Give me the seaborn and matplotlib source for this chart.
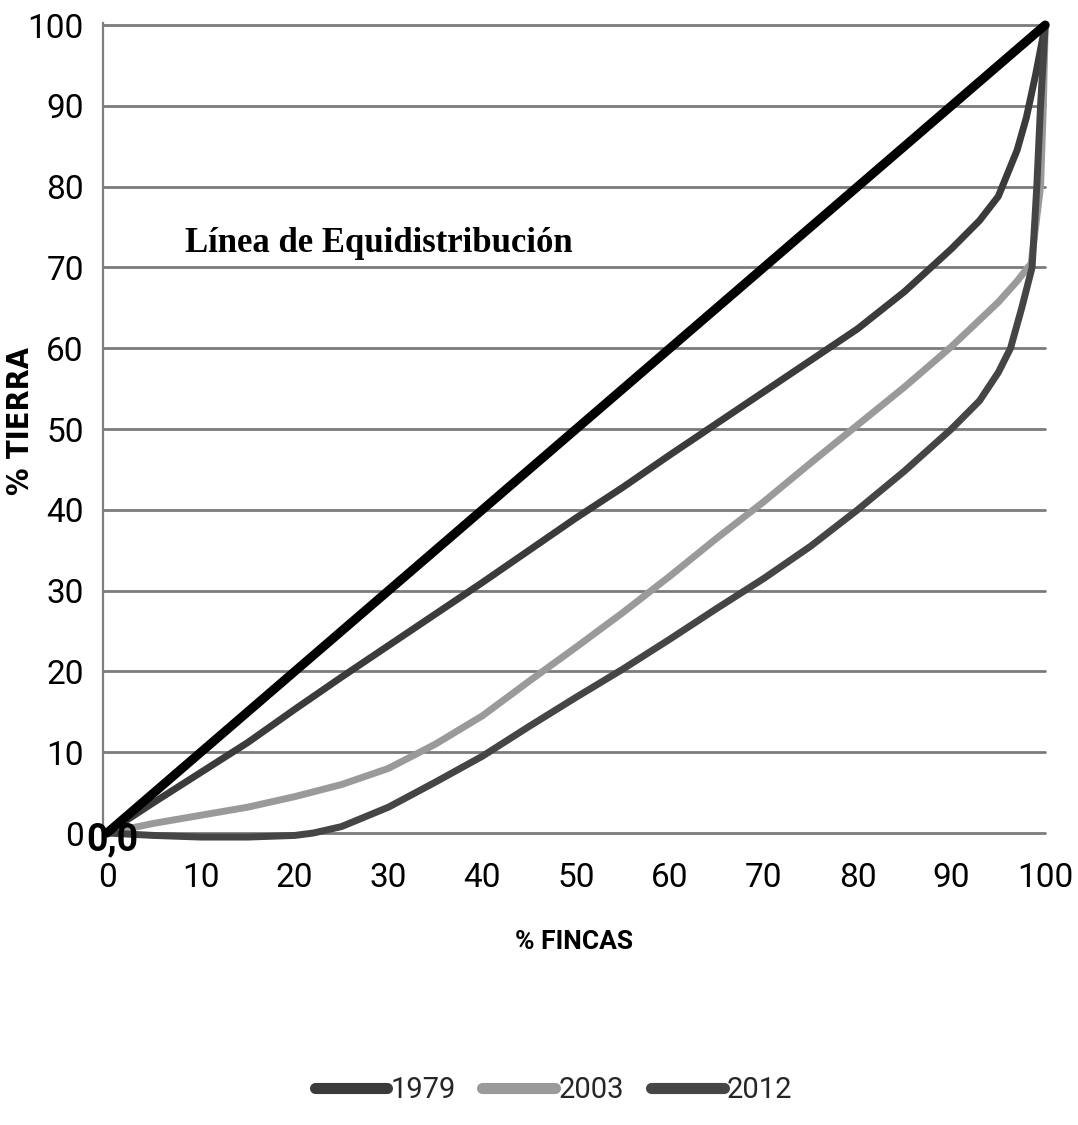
import numpy as np
import pandas as pd
import matplotlib
matplotlib.use("Agg")
import matplotlib.pyplot as plt
import seaborn as sns

# ---- data ----
ticks = [0, 10, 20, 30, 40, 50, 60, 70, 80, 90, 100]
years = ["1979", "2003", "2012"]

fincas_1979 = [0, 5, 10, 15, 20, 25, 30, 35, 40, 45, 50, 55, 60, 65, 70, 75, 80, 85, 90, 93, 95, 97, 98, 99, 100]
tierra_1979 = [0, 3.8, 7.5, 11.2, 15.3, 19.3, 23.2, 27.1, 31, 35, 39, 42.8, 46.8, 50.7, 54.6, 58.5, 62.4, 67, 72.3, 75.8, 78.8, 84.5, 88.6, 94, 100]

fincas_2003 = [0, 5, 10, 15, 20, 25, 30, 35, 40, 45, 50, 55, 60, 65, 70, 75, 80, 85, 90, 95, 97, 98.5, 99.5, 99.8, 100]
tierra_2003 = [0, 1.2, 2.2, 3.2, 4.5, 6, 8, 11, 14.5, 18.8, 23, 27.3, 31.8, 36.5, 41, 45.8, 50.5, 55.2, 60.2, 65.7, 68.3, 70.5, 80, 90, 100]

fincas_2012 = [0, 5, 10, 15, 20, 22, 25, 30, 35, 40, 45, 50, 55, 60, 65, 70, 75, 80, 85, 90, 93, 95, 96.3, 97.5, 98.6, 99.1, 99.5, 100]
tierra_2012 = [0, -0.3, -0.5, -0.5, -0.3, 0, 0.8, 3.2, 6.3, 9.5, 13.2, 16.8, 20.3, 24, 27.8, 31.5, 35.5, 40, 44.8, 50, 53.5, 57, 60, 65, 70, 80, 90, 100]

equi_x = [0, 100]
equi_y = [0, 100]

colors = {"1979": "#3b3b3b", "2003": "#9a9a9a", "2012": "#454545"}

df = pd.concat([
    pd.DataFrame({"fincas": fincas_1979, "tierra": tierra_1979, "year": "1979"}),
    pd.DataFrame({"fincas": fincas_2003, "tierra": tierra_2003, "year": "2003"}),
    pd.DataFrame({"fincas": fincas_2012, "tierra": tierra_2012, "year": "2012"}),
], ignore_index=True)

# ---- style ----
sns.set_theme(style="white")
plt.rcParams["font.family"] = ["Roboto", "DejaVu Sans"]
plt.rcParams["font.stretch"] = "condensed"

fig = plt.figure(figsize=(10.78, 11.25), dpi=100)
ax = fig.add_axes([0.0958, 0.2581, 0.8738, 0.7211])

ax.set_xlim(-0.4, 100)
ax.set_ylim(-0.2, 100.2)

# horizontal gridlines
for t in ticks:
    ax.axhline(t, color="#7b7b7b", lw=2.0, zorder=1, clip_on=False)

# Lorenz curves
sns.lineplot(data=df, x="fincas", y="tierra", hue="year", hue_order=years,
             palette=colors, linewidth=5, estimator=None, sort=False, ax=ax,
             zorder=3)

# equidistribution line
sns.lineplot(x=equi_x, y=equi_y, color="black", linewidth=6.5, ax=ax, zorder=4)

for ln in ax.lines:
    ln.set_clip_on(False)
    ln.set_solid_capstyle("round")
    ln.set_solid_joinstyle("round")

# spines
for s in ["top", "right", "bottom"]:
    ax.spines[s].set_visible(False)
ax.spines["left"].set_color("#808080")
ax.spines["left"].set_linewidth(1.6)

ax.set_xticks(ticks)
ax.set_yticks(ticks)
ax.set_xticklabels([str(t) for t in ticks])
ax.set_yticklabels([str(t) for t in ticks])
ax.tick_params(axis="both", length=0, labelsize=24, colors="black")
ax.tick_params(axis="y", pad=14)
ax.tick_params(axis="x", pad=20)
ax.grid(False)

ax.set_xlabel("% FINCAS", fontsize=19, fontweight="bold", color="black")
ax.xaxis.set_label_coords(0.5, -0.117)
ax.set_ylabel("% TIERRA", fontsize=22, fontweight="bold", color="black",
              family=["DejaVu Sans"])
ax.yaxis.set_label_coords(-0.073, 0.51)

# annotations
ax.text(8.3, 73, "Línea de Equidistribución", fontsize=25, fontweight="bold",
        family=["Liberation Serif", "DejaVu Serif"], ha="left", va="center",
        color="black", zorder=5)
ax.text(0.6, -0.9, "0,0", fontsize=27, fontweight="bold", ha="center",
        va="center", color="black", zorder=6, clip_on=False)

# legend
sns.move_legend(ax, "center", bbox_to_anchor=(0.478, -0.315), ncol=3,
                frameon=False, title=None, fontsize=21, handlelength=2.5,
                handletextpad=0.12, columnspacing=0.9)
leg = ax.get_legend()
for h in leg.get_lines():
    h.set_linewidth(8)

fig.savefig("out.png", dpi=100)
